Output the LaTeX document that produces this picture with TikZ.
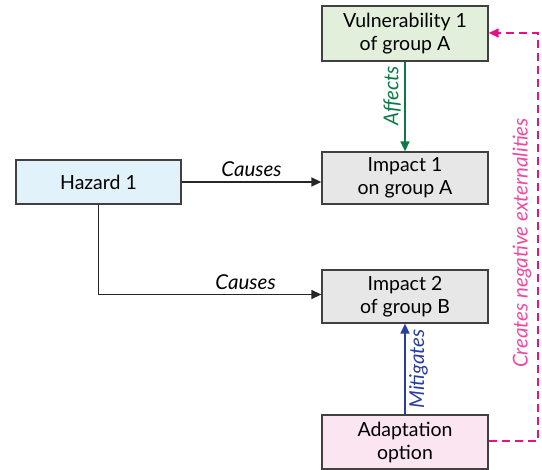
\documentclass[tikz,border=0pt]{standalone}
\usepackage{fontspec}
\setmainfont{Lato}
\usetikzlibrary{arrows.meta,calc}
\definecolor{bordc}{HTML}{404040}
\definecolor{vulfill}{HTML}{E2EFDA}
\definecolor{impfill}{HTML}{E7E7E7}
\definecolor{hazfill}{HTML}{E2F2FA}
\definecolor{adfill}{HTML}{FBE5F0}
\definecolor{affc}{HTML}{0B7A45}
\definecolor{mitc}{HTML}{2A3E9C}
\definecolor{extc}{HTML}{E8108A}
\definecolor{extt}{HTML}{EE4A9E}
\begin{document}
\begin{tikzpicture}[x=1pt,y=1pt,
  box/.style={draw=bordc,line width=1.3pt,minimum width=166pt,align=center,inner sep=0pt,
    font=\fontsize{19.5}{23}\selectfont},
  conn/.style={line width=1.5pt,-{Triangle[length=10pt,width=9pt]}},
  lab/.style={font=\fontsize{20.5}{22}\selectfont\itshape}]
\useasboundingbox (0,0) rectangle (542,-470);
\node[box,fill=vulfill,minimum height=55pt] (vul) at (405,-33.5) {Vulnerability 1\\of group A};
\node[box,fill=impfill,minimum height=52pt] (imp1) at (405,-178) {Impact 1\\on group A};
\node[box,fill=hazfill,minimum width=165pt,minimum height=44pt] (haz) at (98.5,-182) {Hazard 1};
\node[box,fill=impfill,minimum height=53pt] (imp2) at (405,-296.5) {Impact 2\\of group B};
\node[box,fill=adfill,minimum height=54pt] (ad) at (405,-442) {Adaptation\\option};
% Causes arrows
\draw[conn,draw=black!85] (haz.east) -- (haz.east -| imp1.west)
  node[lab,midway,above=1pt,text=black] {Causes};
\coordinate (elbow) at ($(haz.south |- imp2.west)+(0,2)$);
\draw[conn,draw=black!85] (haz.south) -- (elbow) -- (elbow -| imp2.west)
  node[lab,pos=0.66,above=1pt,text=black] {Causes};
% Affects
\draw[conn,draw=affc] (vul.south) -- (imp1.north)
  node[lab,pos=0.38,sloped,above=0pt,text=affc,rotate=180] {Affects};
% Mitigates
\draw[conn,draw=mitc] (ad.north) -- (imp2.south)
  node[lab,midway,sloped,below=0pt,text=mitc] {Mitigates};
% externalities
\coordinate (ebot) at (538,-441);
\coordinate (etop) at (538,-33);
\draw[conn,draw=extc,dashed,dash pattern=on 8pt off 5pt] (ad.east |- ebot) -- (ebot) -- (etop) -- (vul.east |- etop);
\node[lab,text=extt,rotate=90] (extlab) at (522,-243) {Creates negative externalities};
\end{tikzpicture}
\end{document}
